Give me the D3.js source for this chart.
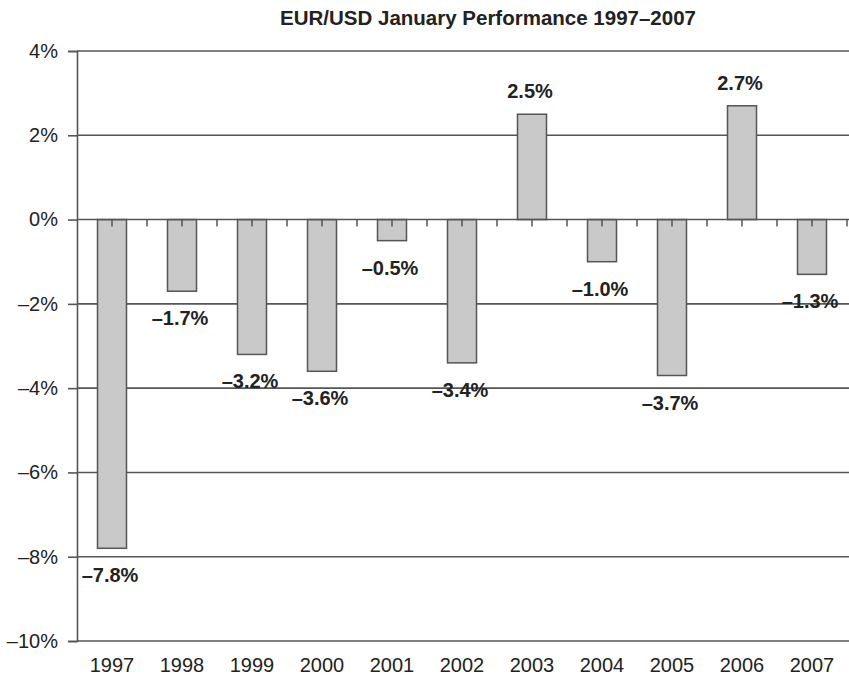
<!DOCTYPE html>
<html>
<head>
<meta charset="utf-8">
<script src="https://cdn.jsdelivr.net/npm/d3@7"></script>
<style>
  body { margin: 0; background: #fff; }
  svg { display: block; font-family: Arial, "Liberation Sans", sans-serif; }
</style>
</head>
<body>
<svg id="chart" width="849" height="677"></svg>
<script>
const years = ["1997", "1998", "1999", "2000", "2001", "2002", "2003", "2004", "2005", "2006", "2007"];
const values = [-7.8, -1.7, -3.2, -3.6, -0.5, -3.4, 2.5, -1.0, -3.7, 2.7, -1.3];
const yTicks = [4, 2, 0, -2, -4, -6, -8, -10];

const svg = d3.select("#chart")
const margin = ({top: 51, right: 0, bottom: 36, left: 77})
const width = +svg.attr("width")
const height = +svg.attr("height")

const x = d3.scaleBand()
  .domain(years)
  .range([margin.left, margin.left + 70 * years.length])
  .paddingInner(0)
  .paddingOuter(0)

const y = d3.scaleLinear()
  .domain([-10, 4])
  .range([height - margin.bottom, margin.top])

const fmt = v => (v < 0 ? "\u2013" + Math.abs(v) : String(v)) + "%"
const fmtLabel = v => (v < 0 ? "\u2013" + Math.abs(v).toFixed(1) : v.toFixed(1)) + "%"

// title
svg.append("text")
  .attr("x", 488)
  .attr("y", 25)
  .attr("text-anchor", "middle")
  .attr("font-size", 20.5)
  .attr("font-weight", "bold")
  .attr("fill", "#222")
  .text("EUR/USD January Performance 1997\u20132007")

// gridlines
svg.append("g")
  .selectAll("line")
  .data(yTicks.filter(d => d !== 0))
  .join("line")
  .attr("x1", margin.left)
  .attr("x2", width)
  .attr("y1", d => y(d))
  .attr("y2", d => y(d))
  .attr("stroke", "#555")
  .attr("stroke-width", 1.6)

// y axis
const yAxis = svg.append("g")
  .attr("transform", `translate(${margin.left},0)`)
  .call(d3.axisLeft(y).tickValues(yTicks).tickFormat(fmt).tickSize(9).tickPadding(10))
yAxis.select(".domain").attr("stroke", "#555").attr("stroke-width", 1.6)
yAxis.selectAll(".tick line").attr("stroke", "#555").attr("stroke-width", 1.6)
yAxis.selectAll(".tick text")
  .attr("font-size", 20)
  .attr("fill", "#222")
  .attr("font-family", "Arial, 'Liberation Sans', sans-serif")

// bars
const bw = 29
svg.append("g")
  .selectAll("rect")
  .data(values)
  .join("rect")
  .attr("x", (d, i) => x(years[i]) + x.bandwidth() / 2 - bw / 2)
  .attr("y", d => y(Math.max(0, d)))
  .attr("width", bw)
  .attr("height", d => Math.abs(y(d) - y(0)))
  .attr("fill", "#c9c9c9")
  .attr("stroke", "#555")
  .attr("stroke-width", 1.5)

// zero axis with ticks at half-band spacing
svg.append("line")
  .attr("x1", margin.left)
  .attr("x2", width)
  .attr("y1", y(0))
  .attr("y2", y(0))
  .attr("stroke", "#555")
  .attr("stroke-width", 1.6)

const halfTicks = d3.range(1, years.length * 2 + 1).map(k => margin.left + k * x.bandwidth() / 2)
svg.append("g")
  .selectAll("line")
  .data(halfTicks)
  .join("line")
  .attr("x1", d => d)
  .attr("x2", d => d)
  .attr("y1", y(0))
  .attr("y2", y(0) + 7)
  .attr("stroke", "#555")
  .attr("stroke-width", 1.5)

// year labels
svg.append("g")
  .selectAll("text")
  .data(years)
  .join("text")
  .attr("x", d => x(d) + x.bandwidth() / 2)
  .attr("y", height - 5)
  .attr("text-anchor", "middle")
  .attr("font-size", 20)
  .attr("fill", "#222")
  .text(d => d)

// value labels
svg.append("g")
  .selectAll("text")
  .data(values)
  .join("text")
  .attr("x", (d, i) => x(years[i]) + x.bandwidth() / 2 - 2)
  .attr("y", d => d < 0 ? y(d) + 34 : y(d) - 16)
  .attr("text-anchor", "middle")
  .attr("font-size", 20)
  .attr("font-weight", "bold")
  .attr("fill", "#222")
  .text(d => fmtLabel(d))
</script>
</body>
</html>
